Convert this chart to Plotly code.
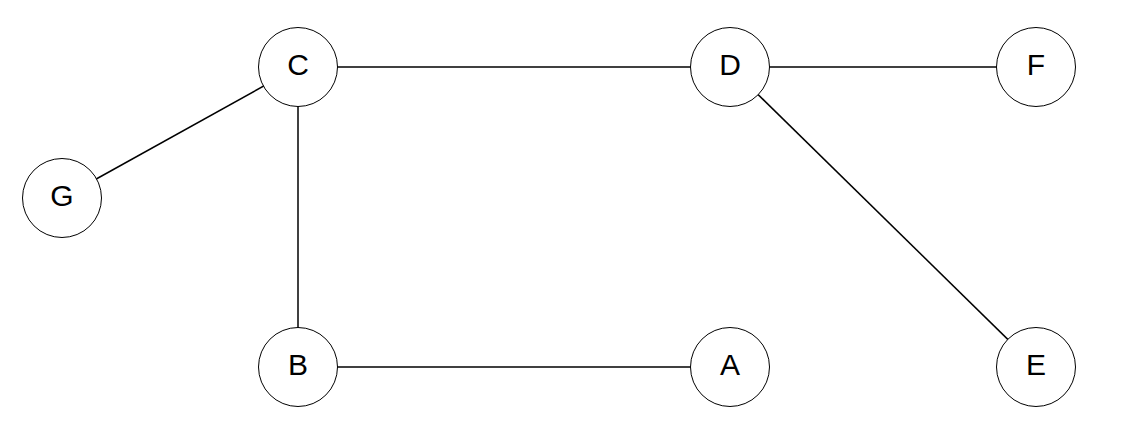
import plotly.graph_objects as go

nodes = ["C", "D", "F", "G", "B", "A", "E"]
node_x = [298, 730, 1036, 62, 298, 730, 1036]
node_y = [67, 67, 67, 198, 367, 367, 367]
edges = [("C", "D"), ("D", "F"), ("C", "G"), ("C", "B"), ("B", "A"), ("D", "E")]

pos = {n: (x, y) for n, x, y in zip(nodes, node_x, node_y)}
ex, ey = [], []
for a, b in edges:
    ex += [pos[a][0], pos[b][0], None]
    ey += [pos[a][1], pos[b][1], None]

fig = go.Figure()
fig.add_trace(go.Scatter(x=ex, y=ey, mode="lines", line=dict(color="black", width=1.5), hoverinfo="skip"))
fig.add_trace(go.Scatter(
    x=node_x, y=node_y, mode="markers+text", text=nodes, textposition="middle center",
    marker=dict(size=79, color="white", line=dict(color="black", width=1)),
    textfont=dict(family="Liberation Sans, Arial", size=30, color="black"),
))
fig.update_layout(
    width=1129, height=442, margin=dict(l=0, r=0, t=0, b=0),
    plot_bgcolor="white", paper_bgcolor="white", showlegend=False,
    xaxis=dict(range=[8, 1137], visible=False),
    yaxis=dict(range=[450, 8], visible=False),
)
fig.write_html("out.html")
